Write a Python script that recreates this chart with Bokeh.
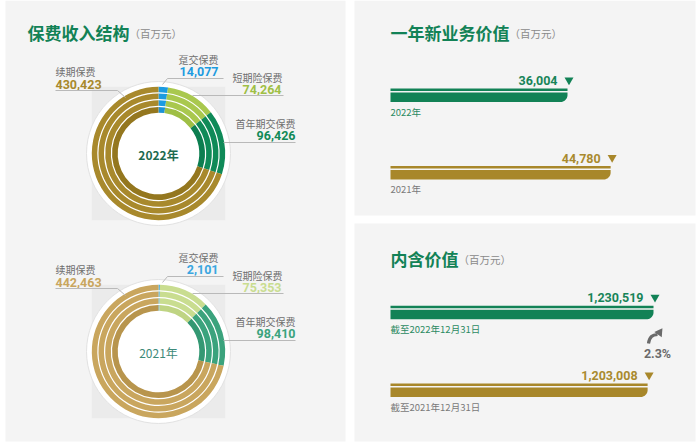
import numpy as np
from bokeh.plotting import figure
from bokeh.models import Range1d
from bokeh.core.properties import value
from bokeh.embed import file_html
from bokeh.resources import INLINE

# ---------------- data ----------------
premium_categories = ["趸交保费", "短期险保费", "首年期交保费", "续期保费"]
premium_2022 = [14077, 74264, 96426, 430423]
premium_2021 = [2101, 75353, 98410, 442463]
donut_years = ["2022年", "2021年"]

nbv_labels = ["2022年", "2021年"]
nbv_values = [36004, 44780]

ev_labels = ["截至2022年12月31日", "截至2021年12月31日"]
ev_values = [1230519, 1203008]
ev_growth = ["2.3%"]

titles = ["保费收入结构", "一年新业务价值", "内含价值"]
unit_text = "（百万元）"

# ---------------- styles ----------------
W, H = 700, 446
CJK = value("Noto Sans CJK SC")
NUM = value("Roboto")
GREEN = "#128256"
GOLD = "#a8872a"
GRAY_TXT = "#6f6f6f"
PANEL = "#f4f4f4"

colors_2022 = ["#1c9be0", "#a9c84e", "#0f8a58", "#a8892c"]
inner_2022 = ["#1c92d6", "#9fbf45", "#0c7e50", "#94771f"]
colors_2021 = ["#3aa6e0", "#c9dd90", "#3ba37d", "#c9a65e"]
inner_2021 = ["#35a0da", "#bfd483", "#349873", "#b8954d"]
value_colors = ["#1c9be0", "#9fbf45", "#118a58", "#a8892c"]


def Y(py):
    return H - py


p = figure(width=W, height=H, x_range=Range1d(0, W), y_range=Range1d(0, H),
           output_backend="svg", toolbar_location=None,
           x_axis_location=None, y_axis_location=None, min_border=0)
p.grid.grid_line_color = None
p.outline_line_color = None
p.background_fill_color = "white"
p.border_fill_color = "white"

# panels
p.quad(left=[5, 354, 354], right=[345, 695, 695],
       top=[Y(0), Y(0), Y(223)], bottom=[Y(441), Y(215), Y(441)],
       fill_color=PANEL, line_color=None)

# titles
title_pos = [(27, 32), (390, 32), (390, 258)]
for t, (tx, ty) in zip(titles, title_pos):
    p.text(x=[tx], y=[Y(ty)], text=[t], text_font=CJK, text_font_size="17px",
           text_font_style="bold", text_color=GREEN, text_baseline="middle",
           text_align="left")
    p.text(x=[tx + len(t) * 17], y=[Y(ty + 1)], text=[unit_text], text_font=CJK,
           text_font_size="10.5px", text_color="#8a8a8a", text_baseline="middle",
           text_align="left")

# ---------------- donuts ----------------
CX = 158
R_OUT = 66.7
rings = [(40.8, 46.5), (47.7, 53.3), (54.5, 60.0), (61.2, 66.7)]


def donut(cy, vals, cols, inner_cols, year, dy, bold_year):
    vals = np.array(vals, dtype=float)
    frac = vals / vals.sum()
    c1 = np.cumsum(frac)
    c0 = c1 - frac
    start = np.pi / 2 - c1 * 2 * np.pi
    end = np.pi / 2 - c0 * 2 * np.pi
    # background square and halo
    p.quad(left=[CX - R_OUT], right=[CX + R_OUT], top=[Y(cy - R_OUT)],
           bottom=[Y(cy + R_OUT)], fill_color="#ebebeb", line_color=None)
    p.circle(x=[CX], y=[Y(cy)], radius=72, fill_color="white",
             line_color="#e2e2e2", line_width=1)
    for i, (ri, ro) in enumerate(rings):
        p.annular_wedge(x=CX, y=Y(cy), inner_radius=ri, outer_radius=ro,
                        start_angle=list(start), end_angle=list(end),
                        fill_color=inner_cols if i == 0 else cols,
                        line_color=None)
    p.text(x=[CX], y=[Y(cy + 1)], text=[year], text_font=CJK,
           text_font_size="12px",
           text_font_style="bold" if bold_year else "normal",
           text_color="#1d6a4f" if bold_year else "#3d8a79",
           text_align="center", text_baseline="middle")
    # labels: (value x, align, name y, value y)
    lab = [
        (218, "right", 59, 71),
        (281, "right", 77, 89),
        (295, "right", 123, 135),
        (55, "left", 71, 84),
    ]
    leaders = [
        ([162, 167, 223], [84, 78, 78]),
        ([192, 283], [95, 95]),
        ([223, 295], [142, 142]),
        ([55, 117, 125], [90, 90, 97]),
    ]
    for k, cat in enumerate(premium_categories):
        lx, al, ny, vy = lab[k]
        if k == 1:
            p.text(x=[232], y=[Y(ny + dy)], text=[cat], text_font=CJK,
                   text_font_size="10px", text_color=GRAY_TXT,
                   text_align="left", text_baseline="middle")
        else:
            p.text(x=[lx], y=[Y(ny + dy)], text=[cat], text_font=CJK,
                   text_font_size="10px", text_color=GRAY_TXT,
                   text_align=al, text_baseline="middle")
        p.text(x=[lx], y=[Y(vy + dy)], text=[f"{int(vals[k]):,}"], text_font=NUM,
               text_font_size="12.5px", text_font_style="bold",
               text_color=cols[k] if dy else value_colors[k],
               text_align=al, text_baseline="middle")
        xs, ys = leaders[k]
        p.line(x=xs, y=[Y(v + dy) for v in ys], line_color="#b9b9b9", line_width=1)


donut(153, premium_2022, colors_2022, inner_2022, donut_years[0], 0, True)
donut(351, premium_2021, colors_2021, inner_2021, donut_years[1], 198, False)

# ---------------- bar panels ----------------
BAR_X0 = 390
k_nbv = 177.0 / 36004
k_ev = 263.0 / 1230519
p.extra_x_ranges = {
    "nbv": Range1d(-BAR_X0 / k_nbv, (W - BAR_X0) / k_nbv),
    "ev": Range1d(-BAR_X0 / k_ev, (W - BAR_X0) / k_ev),
}

bar_colors = [GREEN, GOLD]
bar_text_colors = ["#178458", "#a98a2e"]
label_colors = ["#2b8a62", "#7a7a7a"]


def rounded_bar(v, top_px, bot_px, k, r_px=7.0):
    """Bar from 0 to v with rounded bottom-right corner (r in px)."""
    r = r_px / k
    th = np.linspace(0, -np.pi / 2, 12)
    xs = [0, v] + list(v - r + r * np.cos(th)) + [0]
    ys = [Y(top_px), Y(top_px)] + list(Y(bot_px - r_px) + r_px * np.sin(th)) + [Y(bot_px)]
    return xs, ys


def bars(vals, labels, rng, k, row_tops, label_font="9.5px"):
    for i, v in enumerate(vals):
        t = row_tops[i]
        p.quad(left=[0], right=[v], top=[Y(t)], bottom=[Y(t + 2.5)],
               fill_color=bar_colors[i], line_color=None, x_range_name=rng)
        xs, ys = rounded_bar(v, t + 4, t + 13.5, k)
        p.patch(x=xs, y=ys, fill_color=bar_colors[i], line_color=None,
                x_range_name=rng)
        p.text(x=[v], y=[Y(t - 8)], text=[f"{v:,}"], text_font=NUM,
               text_font_size="12.5px", text_font_style="bold",
               text_color=bar_text_colors[i], text_align="right",
               text_baseline="middle", x_offset=-10, x_range_name=rng)
        p.scatter(x=[v + 1.5 / k], y=[Y(t - 8.5)], marker="inverted_triangle",
                  size=9, fill_color=bar_colors[i], line_color=None,
                  x_range_name=rng)
        p.text(x=[0], y=[Y(t + 23)], text=[labels[i]], text_font=CJK,
               text_font_size=label_font, text_color=label_colors[i],
               text_align="left", text_baseline="middle", x_range_name=rng)


bars(nbv_values, nbv_labels, "nbv", k_nbv, [88, 165.5])
bars(ev_values, ev_labels, "ev", k_ev, [305.3, 383])

# growth arrow and text
p.bezier(x0=[648], y0=[Y(343)], x1=[657], y1=[Y(334)], cx0=[649], cy0=[Y(336)],
         cx1=[652], cy1=[Y(334.5)], line_color="#6a6a6a", line_width=3.2)
p.scatter(x=[659], y=[Y(332)], marker="triangle", size=9, angle=-0.6,
          fill_color="#6a6a6a", line_color=None)
p.text(x=[657], y=[Y(353)], text=ev_growth, text_font=NUM, text_font_size="12.5px",
       text_font_style="bold", text_color="#6a6a6a", text_align="center",
       text_baseline="middle")

open("out.html", "w").write(file_html(p, INLINE))
